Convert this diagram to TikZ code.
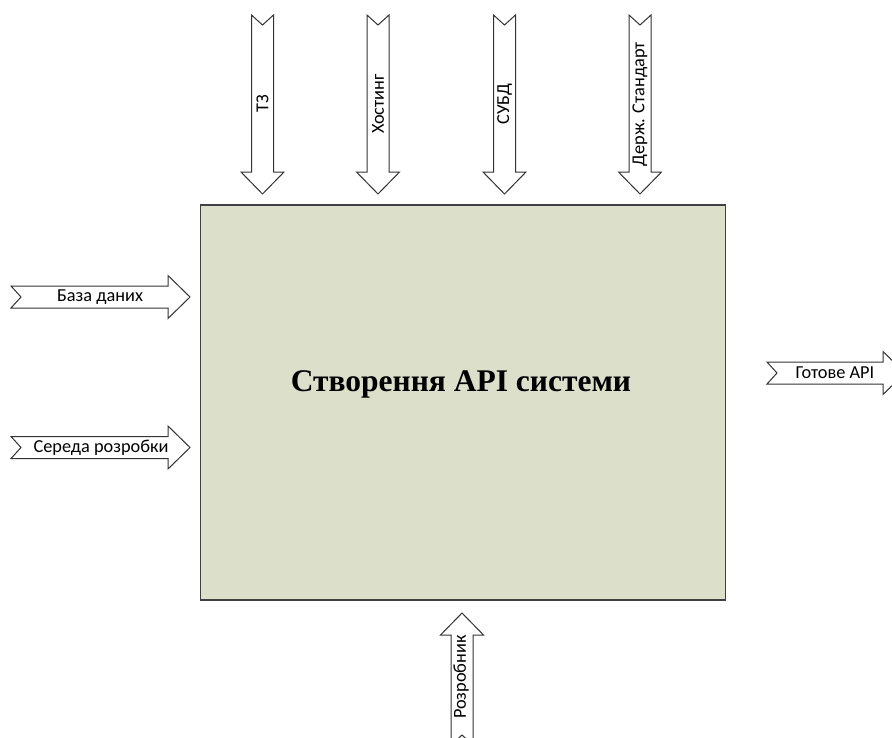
\documentclass[tikz,border=0pt]{standalone}
\usepackage{fontspec}
\setmainfont{Liberation Serif}
\newfontfamily\lblfont{Carlito}
\begin{document}
\begin{tikzpicture}[x=1pt,y=-1pt,
  boxstyle/.style={draw=black!75,line width=1.6pt,fill=boxfill,inner sep=0pt},
  arrowshape/.style={draw=black!80,line width=1pt,fill=white,line join=miter},
  lbl/.style={font=\lblfont\fontsize{18.3}{20}\selectfont,inner sep=0pt},
  title/.style={font=\bfseries\fontsize{31.5}{34}\selectfont,inner sep=0pt},
  pics/barrow/.style={code={
    \path[arrowshape] (0,11) -- (#1-22,11) -- (#1-22,21.5) -- (#1,0)
      -- (#1-22,-21.5) -- (#1-22,-11) -- (0,-11) -- (10,0) -- cycle;}}
]
\definecolor{boxfill}{HTML}{DCDFCA}
\clip (0,0) rectangle (892,737);
\fill[white] (0,0) rectangle (892,737);
% main box
\node[boxstyle,minimum width=525pt,minimum height=395pt,anchor=north west] (box) at (199.5,204) {};
\node[title] (titletext) at (461,384) {Створення API системи};
% top (control) arrows
\pic[rotate=-90] at (262.5,15) {barrow=179};
\node[lbl,rotate=90] (tz) at (262.5,104) {ТЗ};
\pic[rotate=-90] at (378,15) {barrow=179};
\node[lbl,rotate=90] (host) at (378,104) {Хостинг};
\pic[rotate=-90] at (504.5,15) {barrow=179};
\node[lbl,rotate=90] (subd) at (504.5,104) {СУБД};
\pic[rotate=-90] at (640,15) {barrow=179};
\node[lbl,rotate=90] (std) at (640,104) {Держ. Стандарт};
% left (input) arrows
\pic at (11,297) {barrow=179};
\node[lbl] (db) at (100,297) {База даних};
\pic at (11,447.5) {barrow=179};
\node[lbl] (env) at (101,447.5) {Середа розробки};
% right (output) arrow
\pic at (767,373) {barrow=138};
\node[lbl] (out) at (835,373) {Готове API};
% bottom (mechanism) arrow
\pic[rotate=90] at (462,745) {barrow=132};
\node[lbl,rotate=90] (dev) at (461,677) {Розробник};
\end{tikzpicture}
\end{document}
